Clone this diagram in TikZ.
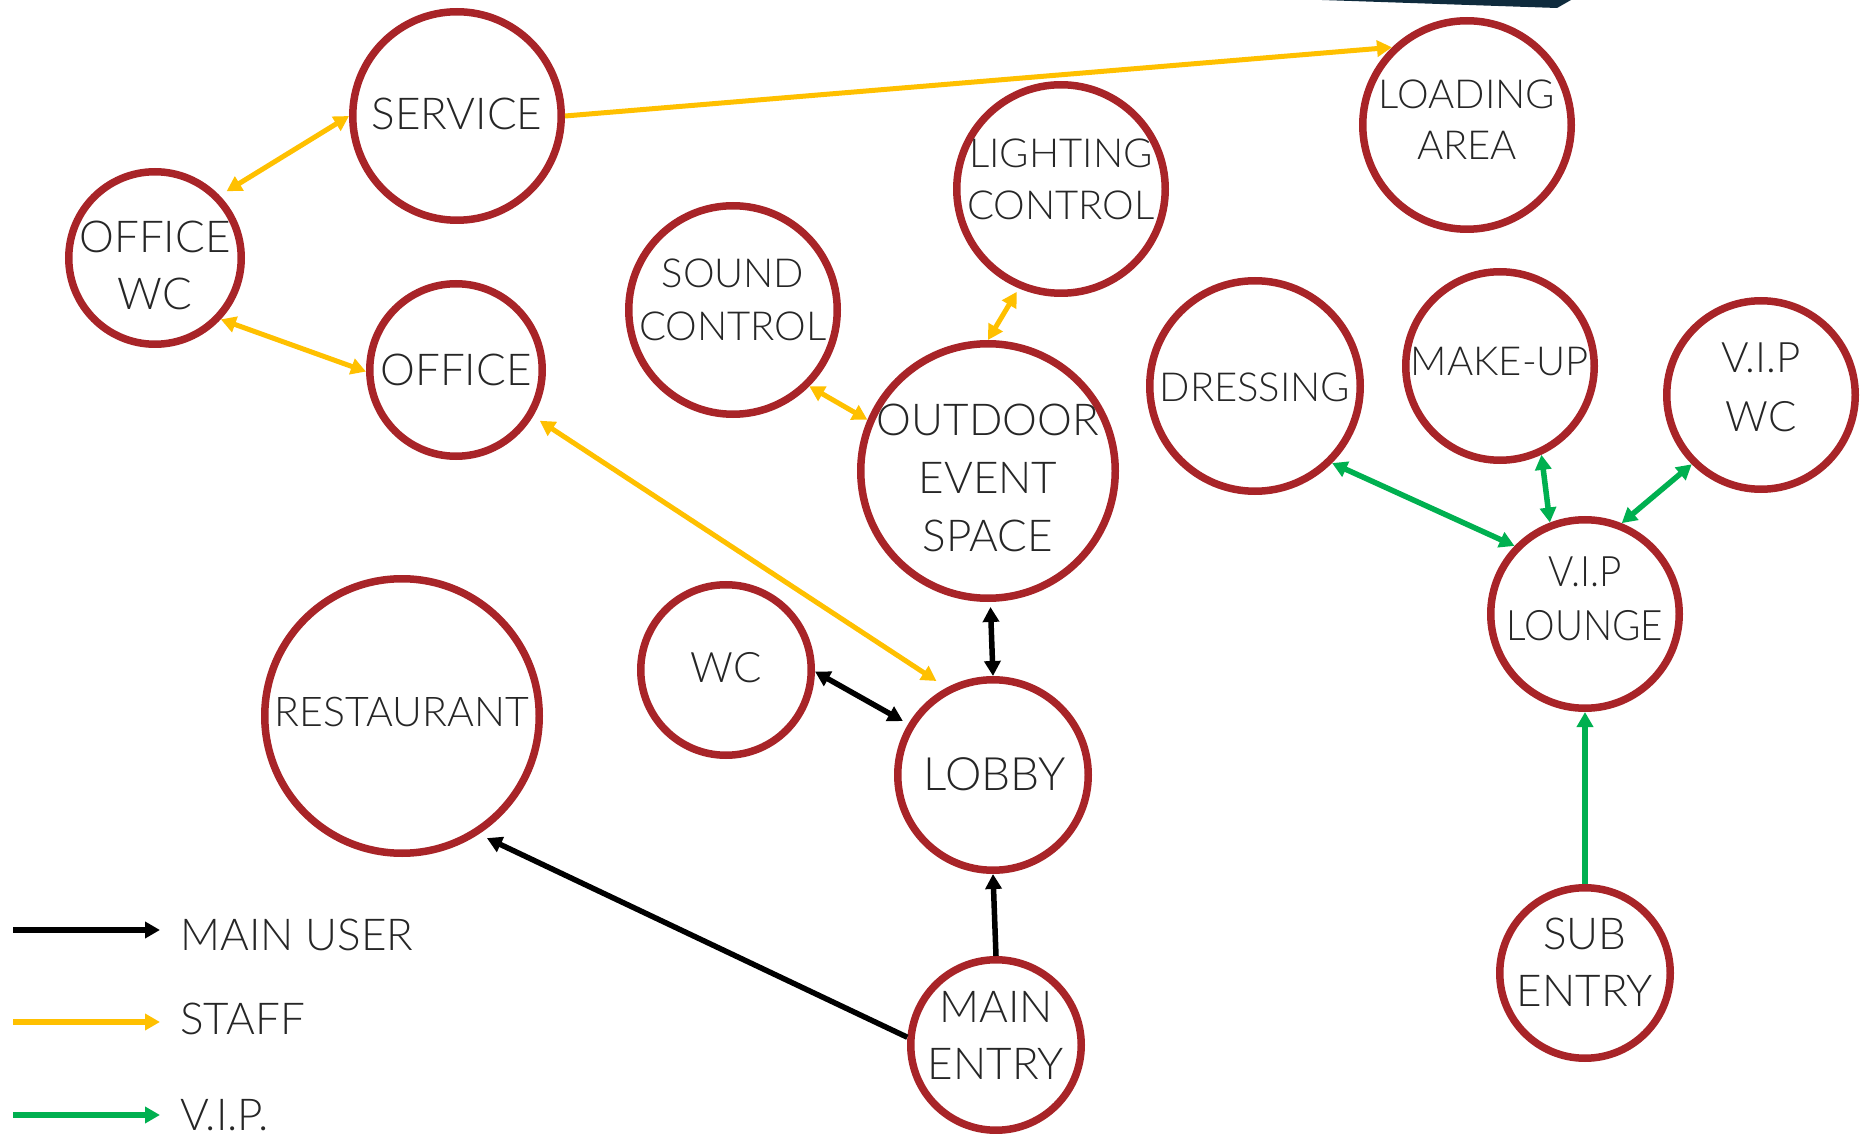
\documentclass[tikz,border=0pt]{standalone}
\usepackage{fontspec}
\setmainfont{Lato Light}
\newfontfamily\narrowlato{Lato Light}[FakeStretch=0.92]
\usepackage{tikz}
\usetikzlibrary{arrows.meta}
\definecolor{roomred}{HTML}{A82428}
\definecolor{staffyellow}{HTML}{FFC000}
\definecolor{vipgreen}{HTML}{00B050}
\definecolor{topnavy}{HTML}{0F2B3D}
\definecolor{labelgray}{HTML}{262626}

\begin{document}
\begin{tikzpicture}[x=0.5pt,y=-0.5pt,
  >={Triangle[length=7.5pt,width=8pt]},
  room/.style={circle,draw=roomred,line width=3.75pt,minimum size=#1,inner sep=0pt},
  roomtext/.style={align=center,text=labelgray,inner sep=0pt,font=\fontsize{22}{28.5}\selectfont},
  smalltext/.style={roomtext,font=\fontsize{20}{26}\selectfont},
  mainuser/.style={draw=black,line width=2.75pt},
  staff/.style={draw=staffyellow,line width=2.5pt},
  vip/.style={draw=vipgreen,line width=2.75pt}]
\useasboundingbox (0,0) rectangle (1860,1134);
% Top corner
\fill[topnavy] (1322,0) -- (1557,8) -- (1571,0) -- cycle;
% Rooms
\node[room=104.25pt] (service) at (457,116) {};
\node[room=86.25pt] (officewc) at (155,258) {};
\node[room=86.25pt] (office) at (456,370) {};
\node[room=104.25pt] (sound) at (733,310) {};
\node[room=104.25pt] (lighting) at (1061,189) {};
\node[room=104.25pt] (loading) at (1467,125) {};
\node[room=127.25pt] (outdoor) at (988,471) {};
\node[room=105.25pt] (dressing) at (1255,386) {};
\node[room=94.25pt] (makeup) at (1500,366) {};
\node[room=94.25pt] (vipwc) at (1761,395) {};
\node[room=94.25pt] (viplounge) at (1585,614) {};
\node[room=85.25pt] (wc) at (726,670) {};
\node[room=137.25pt] (restaurant) at (402,716) {};
\node[room=95.25pt] (lobby) at (993,775) {};
\node[room=85.25pt] (mainentry) at (996,1045) {};
\node[room=85.25pt] (subentry) at (1585,973) {};
% Room names
\node[roomtext] (service-t) at (457,114) {SERVICE};
\node[roomtext] (officewc-t) at (155,265) {OFFICE\\WC};
\node[roomtext] (office-t) at (456,370) {OFFICE};
\node[smalltext,font=\fontsize{20}{26.5}\selectfont] (sound-t) at (733,300) {SOUND\\CONTROL};
\node[smalltext] (lighting-t) at (1061,179) {LIGHTING\\CONTROL};
\node[smalltext,font=\fontsize{20}{25.5}\selectfont] (loading-t) at (1467,120) {LOADING\\AREA};
\node[roomtext,font=\fontsize{22}{29}\selectfont] (outdoor-t) at (988,478) {OUTDOOR\\EVENT\\SPACE};
\node[smalltext] (dressing-t) at (1255,387) {DRESSING};
\node[smalltext] (makeup-t) at (1500,362) {MAKE-UP};
\node[roomtext,font=\fontsize{21}{29.5}\selectfont] (vipwc-t) at (1761,387) {V.I.P\\WC};
\node[roomtext,font=\narrowlato\fontsize{21}{27}\selectfont] (viplounge-t) at (1585,599) {V.I.P\\LOUNGE};
\node[roomtext,font=\fontsize{21}{28}\selectfont] (wc-t) at (726,668) {WC};
\node[smalltext,font=\fontsize{20.5}{26}\selectfont] (restaurant-t) at (402,712) {RESTAURANT};
\node[roomtext,font=\fontsize{23}{29}\selectfont] (lobby-t) at (995,774) {LOBBY};
\node[roomtext] (mainentry-t) at (996,1035) {MAIN\\ENTRY};
\node[roomtext] (subentry-t) at (1585,962) {SUB\\ENTRY};
% Staff routes
\draw[staff,<->,shorten <=4pt] (officewc.44) -- (service.180);
\draw[staff,<->] (officewc.-43) -- (office.181);
\draw[staff,->] (service.0) -- (loading.134);
\draw[staff,<->,shorten <=4pt,shorten >=6pt] (office.-31) -- (lobby.118);
\draw[staff,<->] (sound.-45) -- (outdoor.157);
\draw[staff,<->,shorten <=2pt] (lighting.247) -- (outdoor.90);
% Main user routes
\draw[mainuser,<->,shorten <=2.5pt] (outdoor.271) -- (lobby.90);
\draw[mainuser,<->,shorten >=3pt] (wc.-1) -- (lobby.149);
\draw[mainuser,->] (mainentry.north) -- (lobby.south);
\draw[mainuser,->,shorten >=4.5pt] (mainentry.175) -- (restaurant.-57);
% VIP routes
\draw[vip,<->] (dressing.-45) -- (viplounge.136);
\draw[vip,<->] (makeup.-65) -- (viplounge.111);
\draw[vip,<->] (vipwc.225) -- (viplounge.68);
\draw[vip,->] (subentry.north) -- (viplounge.south);
% Legend
\coordinate (mu-a) at (13,930);
\coordinate (mu-b) at (160,930);
\coordinate (st-a) at (13,1022);
\coordinate (st-b) at (160,1022);
\coordinate (vp-a) at (13,1115);
\coordinate (vp-b) at (160,1115);
\draw[mainuser,->,line width=3pt] (mu-a) -- (mu-b);
\draw[staff,->,line width=3pt] (st-a) -- (st-b);
\draw[vip,->,line width=3pt] (vp-a) -- (vp-b);
\node[roomtext,anchor=base west] (mu-t) at (180,950) {MAIN USER};
\node[roomtext,anchor=base west] (st-t) at (180,1034) {STAFF};
\node[roomtext,anchor=base west] (vp-t) at (180,1130) {V.I.P.};
\end{tikzpicture}
\end{document}
